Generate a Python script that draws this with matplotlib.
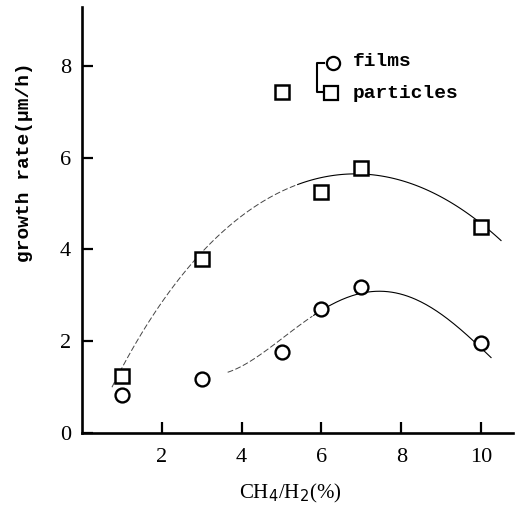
import numpy as np
import matplotlib
matplotlib.use("Agg")
import matplotlib.pyplot as plt
from matplotlib.lines import Line2D

# ---- data ----
ratio = [1, 3, 5, 6, 7, 10]
films = [0.82, 1.18, 1.77, 2.70, 3.17, 1.95]
particles_x = [1, 3, 5, 6, 7, 10]
particles = [1.24, 3.78, 7.42, 5.26, 5.78, 4.48]

# trend curves
pcurve_x = [0.75, 1.03, 1.7, 2.28, 2.7, 3.28, 4.03, 4.75, 5.15, 5.95, 6.78, 7.45, 8.45, 9.28, 10.0, 10.5]
pcurve_y = [1.04, 1.43, 2.39, 3.2, 3.7, 4.2, 4.74, 5.14, 5.3, 5.54, 5.64, 5.64, 5.38, 5.0, 4.52, 4.22]
fcurve_x = [3.65, 4.38, 5.1, 5.95, 6.45, 7.03, 7.6, 8.6, 9.45, 10.0, 10.25]
fcurve_y = [1.33, 1.65, 2.09, 2.67, 2.89, 3.07, 3.07, 2.76, 2.3, 1.93, 1.58]

xticks = [2, 4, 6, 8, 10]
yticks = [0, 2, 4, 6, 8]

W, H = 516, 507
fig = plt.figure(figsize=(W / 100, H / 100), dpi=100)
x0, x1, y0, y1 = 82, 513, 433, 7
ax = fig.add_axes([x0 / W, 1 - y0 / H, (x1 - x0) / W, (y0 - y1) / H])
ax.set_xlim(0, 10.8)
ax.set_ylim(0, 9.28)

for s in ["top", "right"]:
    ax.spines[s].set_visible(False)
for s in ["left", "bottom"]:
    ax.spines[s].set_linewidth(1.9)

serif = "Liberation Serif"
mono = "Liberation Mono"

ax.set_xticks(xticks)
ax.set_yticks(yticks)
ax.set_xticklabels([str(v) for v in xticks], fontfamily=serif, fontsize=16)
ax.set_yticklabels([str(v) for v in yticks], fontfamily=serif, fontsize=16)
ax.tick_params(direction="in", length=8, width=1.6)
ax.tick_params(axis="y", pad=8)
ax.tick_params(axis="x", pad=11)

# fitted curves
def smooth(xs, ys, deg):
    c = np.polyfit(xs, ys, deg)
    xx = np.linspace(min(xs), max(xs), 200)
    return xx, np.polyval(c, xx)

px, py = smooth(pcurve_x, pcurve_y, 5)
fx, fy = smooth(fcurve_x, fcurve_y, 4)
m = px <= 5.4
ax.plot(px[m], py[m], color="#444444", lw=0.7, ls=(0, (6, 2.5)))
ax.plot(px[~m], py[~m], color="black", lw=0.8)
m = fx <= 5.8
ax.plot(fx[m], fy[m], color="#444444", lw=0.7, ls=(0, (6, 2.5)))
ax.plot(fx[~m], fy[~m], color="black", lw=0.8)

ax.plot(ratio, films, ls="none", marker="o", ms=10, mfc="white", mec="black", mew=1.7, clip_on=False)
ax.plot(particles_x, particles, ls="none", marker="s", ms=10.5, mfc="white", mec="black", mew=1.8, clip_on=False)

# legend (bracket style)
def fx_(px_):
    return (px_ - x0) / (x1 - x0)
def fy_(py_):
    return (y0 - py_) / (y0 - y1)

bx = [fx_(324), fx_(317), fx_(317), fx_(327)]
by = [fy_(63), fy_(63), fy_(92), fy_(92)]
ax.add_line(Line2D(bx, by, transform=ax.transAxes, color="black", lw=1.5))
ax.plot([fx_(333)], [fy_(63)], transform=ax.transAxes, marker="o", ms=9.5, mfc="white", mec="black", mew=1.6, ls="none")
ax.plot([fx_(331)], [fy_(93)], transform=ax.transAxes, marker="s", ms=10, mfc="white", mec="black", mew=1.6, ls="none")
ax.text(fx_(353), fy_(61), "films", transform=ax.transAxes, fontfamily=mono, fontweight="bold", fontsize=14, va="center", ha="left")
ax.text(fx_(353), fy_(94), "particles", transform=ax.transAxes, fontfamily=mono, fontweight="bold", fontsize=14, va="center", ha="left")

ax.set_ylabel("growth rate(\u03bcm/h)", fontfamily=mono, fontweight="bold", fontsize=14)
ax.yaxis.set_label_coords(fx_(25), fy_(162))
ax.set_xlabel("CH$_4$/H$_2$(%)", fontfamily=serif, fontsize=15)
ax.xaxis.set_label_coords(fx_(290), fy_(493))
ax.xaxis.label.set_va("center")
ax.yaxis.label.set_va("center")

fig.savefig("out.png", dpi=100)
